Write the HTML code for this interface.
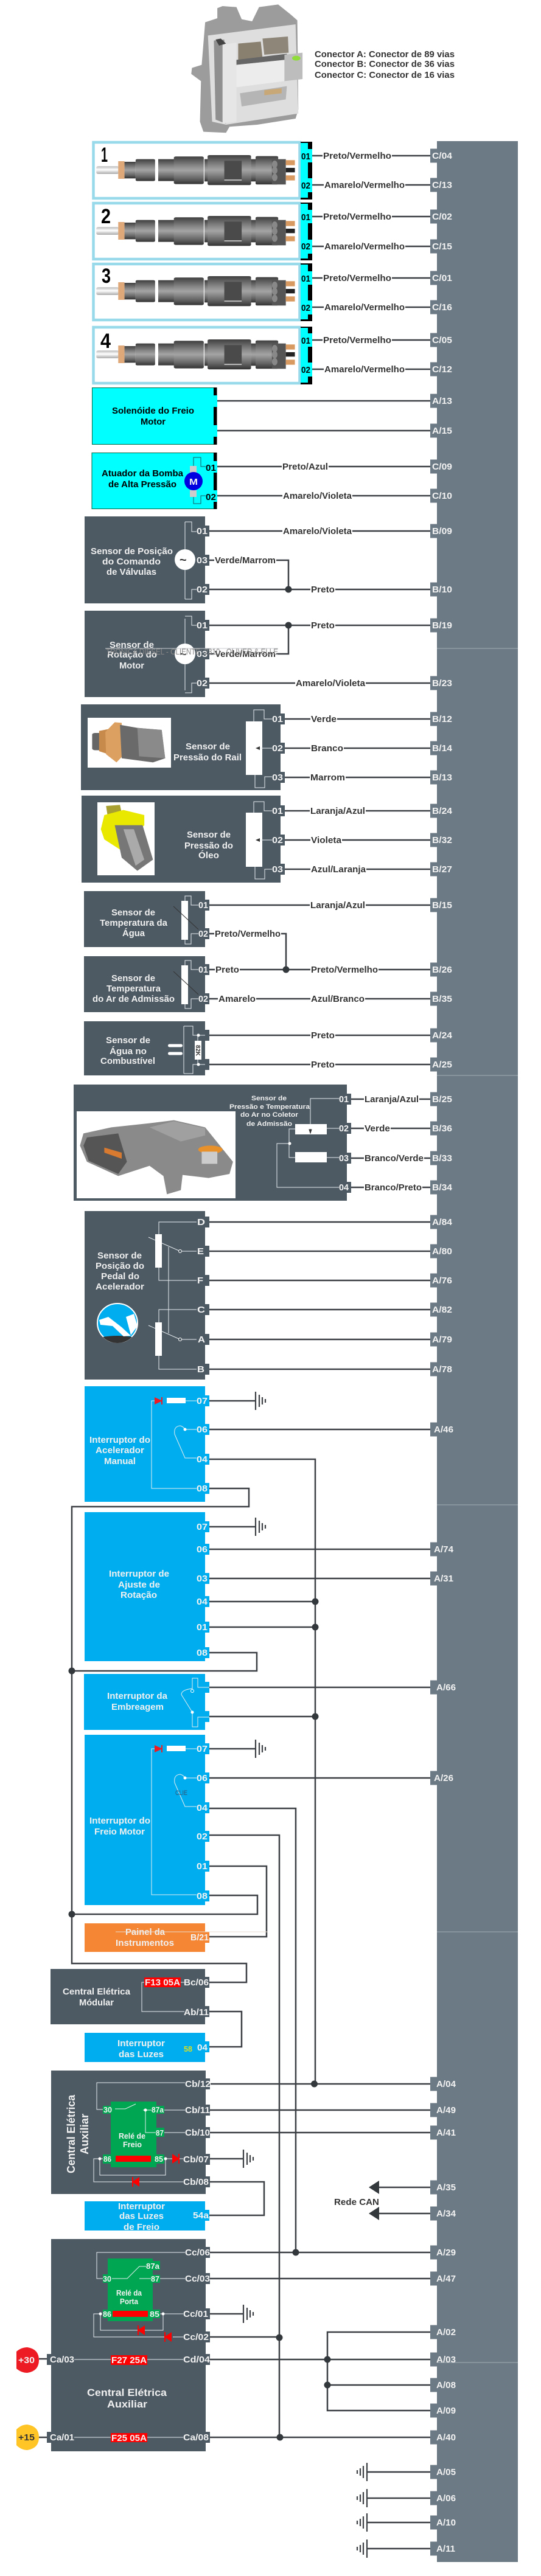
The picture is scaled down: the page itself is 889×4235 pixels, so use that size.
<!DOCTYPE html>
<html><head><meta charset="utf-8"><style>
html,body{margin:0;padding:0;background:#fff}
svg{display:block}
text{font:bold 15px "Liberation Sans",sans-serif;fill:#333}
.w{fill:#f2f2f2}.k{fill:#000}
.b{font-size:14.5px;fill:#f0f0f0}
.s{font-size:11px;fill:#f0f0f0}
.c{fill:none;stroke:#3c4044;stroke-width:2.5}
.t{fill:none;stroke:#e6ecef;stroke-width:1}
.f{fill:none;stroke:#1d5a60;stroke-width:1}
</style></head><body>
<svg xmlns="http://www.w3.org/2000/svg" width="889" height="4235" viewBox="0 0 889 4235">
<defs>
<linearGradient id="gb" x1="0" y1="0" x2="0" y2="1"><stop offset="0" stop-color="#3f3f3f"/><stop offset=".35" stop-color="#8a8a8a"/><stop offset=".5" stop-color="#a4a4a4"/><stop offset=".8" stop-color="#666"/><stop offset="1" stop-color="#333"/></linearGradient>
<linearGradient id="gt" x1="0" y1="0" x2="0" y2="1"><stop offset="0" stop-color="#bbb"/><stop offset=".45" stop-color="#fff"/><stop offset="1" stop-color="#aaa"/></linearGradient>
<g id="inj"><g transform="scale(.5714 .3333)">
<rect x="277" y="820" width="65" height="38" rx="6" fill="url(#gt)"/>
<rect x="340" y="795" width="18" height="87" fill="#dfa878"/>
<rect x="358" y="798" width="32" height="82" fill="url(#gb)"/>
<rect x="390" y="785" width="56" height="108" rx="5" fill="url(#gb)"/>
<rect x="455" y="785" width="46" height="108" fill="url(#gb)"/>
<rect x="500" y="772" width="86" height="136" rx="6" fill="url(#gb)"/>
<rect x="588" y="785" width="10" height="110" fill="url(#gb)"/>
<rect x="597" y="765" width="125" height="148" rx="6" fill="url(#gb)"/>
<rect x="722" y="785" width="14" height="110" fill="url(#gb)"/>
<rect x="735" y="770" width="65" height="140" rx="5" fill="url(#gb)"/>
<rect x="645" y="793" width="50" height="97" fill="#4a4a4a"/>
<rect x="645" y="886" width="50" height="4" fill="#eee"/>
<rect x="782" y="785" width="40" height="125" fill="#555"/>
<ellipse cx="790" cy="810" rx="8" ry="18" fill="#888"/><ellipse cx="790" cy="840" rx="8" ry="18" fill="#888"/><ellipse cx="790" cy="875" rx="8" ry="18" fill="#888"/>
<rect x="822" y="790" width="26" height="25" fill="#d89a60"/><rect x="822" y="828" width="26" height="22" fill="#222"/><rect x="822" y="865" width="26" height="25" fill="#d89a60"/>
</g></g>
<path id="gr" d="M0-15V15M6-10V10M11-6V6M16-3V3" fill="none" stroke="#3c4044" stroke-width="2.2"/>
</defs>

<!-- ECU -->
<g transform="scale(.5714 .3333)">
<polygon points="625,40 640,30 680,35 695,95 725,105 745,35 800,22 835,70 855,100 858,540 850,585 740,615 660,625 650,655 585,650 575,600 578,400 550,365 552,335 580,320 590,110 625,90" fill="#9c9c9c"/>
<polygon points="598,175 850,120 858,560 650,615 610,600" fill="#dedede"/>
<polygon points="615,200 645,195 650,610 620,590" fill="#909090"/>
<polygon points="640,220 680,210 680,600 640,610" fill="#e6e6e6"/>
<polygon points="685,215 750,205 755,285 685,295" fill="#8a8070"/>
<polygon points="755,190 828,180 830,260 760,270" fill="#8e8678"/>
<polygon points="680,295 825,265 825,295 680,320" fill="#666"/>
<polygon points="680,320 818,295 818,400 680,430" fill="#ececec"/>
<polygon points="818,270 870,260 870,390 818,400" fill="#bdbdbd"/>
<circle cx="852" cy="287" r="12" fill="#8fdc3a"/>
<polygon points="690,460 825,425 822,490 695,525" fill="#b5b5b5"/>
<polygon points="760,445 810,435 810,460 760,470" fill="#c9a878"/>
<polygon points="620,195 635,190 650,215 630,225" fill="#444"/>
</g>
<text x="517" y="94" textLength="230" lengthAdjust="spacingAndGlyphs">Conector A: Conector de 89 vias</text>
<text x="517" y="110" textLength="230" lengthAdjust="spacingAndGlyphs">Conector B: Conector de 36 vias</text>
<text x="517" y="128" textLength="230" lengthAdjust="spacingAndGlyphs">Conector C: Conector de 16 vias</text>

<!-- ECU panel -->
<rect x="718" y="232" width="133" height="3980" fill="#6c7a85"/>
<path fill="#6c7a85" d="M707 244.500h11v23h-11zM707 292.500h11v23h-11zM707 344.500h11v23h-11zM707 393.500h11v23h-11zM707 445.500h11v23h-11zM707 493.500h11v23h-11zM707 547.500h11v23h-11zM707 595.500h11v23h-11zM707 647.500h11v23h-11zM707 696.500h11v23h-11zM707 755.500h11v23h-11zM707 803.500h11v23h-11zM707 861.500h11v23h-11zM707 957.500h11v23h-11zM707 1016.500h11v23h-11zM707 1111.500h11v23h-11zM707 1170.500h11v23h-11zM707 1218.500h11v23h-11zM707 1266.500h11v23h-11zM707 1321.500h11v23h-11zM707 1369.500h11v23h-11zM707 1417.500h11v23h-11zM707 1476.500h11v23h-11zM707 1582.500h11v23h-11zM707 1630.500h11v23h-11zM707 1690.500h11v23h-11zM707 1738.500h11v23h-11zM707 1795.500h11v23h-11zM707 1843.500h11v23h-11zM707 1892.500h11v23h-11zM707 1940.500h11v23h-11zM707 1997.500h11v23h-11zM707 2045.500h11v23h-11zM707 2093.500h11v23h-11zM707 2141.500h11v23h-11zM707 2190.500h11v23h-11zM707 2239.500h11v23h-11zM707 2338.500h11v23h-11zM707 2535.500h11v23h-11zM707 2583.500h11v23h-11zM707 2762.500h11v23h-11zM707 2911.500h11v23h-11zM707 3414.500h11v23h-11zM707 3457.500h11v23h-11zM707 3494.500h11v23h-11zM707 3584.500h11v23h-11zM707 3627.500h11v23h-11zM707 3691.500h11v23h-11zM707 3734.500h11v23h-11zM707 3822.500h11v23h-11zM707 3867.500h11v23h-11zM707 3909.500h11v23h-11zM707 3951.500h11v23h-11zM707 3995.500h11v23h-11zM707 4052.500h11v23h-11zM707 4095.500h11v23h-11zM707 4135.500h11v23h-11zM707 4178.500h11v23h-11z"/>
<path stroke="#a2adb5" stroke-width="1" d="M718 1066H851M718 1768H851M718 2474H851M718 3176H851M718 3884H851"/>

<!-- Injector boxes -->
<g fill="#fff" stroke="#98d9ea" stroke-width="4.500">
<rect x="153.500" y="234" width="339" height="92"/>
<rect x="153.500" y="334" width="339" height="92"/>
<rect x="153.500" y="434" width="339" height="92"/>
<rect x="153.500" y="538" width="339" height="92"/>
</g>
<use href="#inj"/><use href="#inj" y="100"/><use href="#inj" y="199"/><use href="#inj" y="303"/>
<g>
<text class="k" style="font-size:34px" x="166" y="266" textLength="11" lengthAdjust="spacingAndGlyphs">1</text>
<text class="k" style="font-size:34px" x="166" y="367" textLength="16" lengthAdjust="spacingAndGlyphs">2</text>
<text class="k" style="font-size:34px" x="167" y="465" textLength="15" lengthAdjust="spacingAndGlyphs">3</text>
<text class="k" style="font-size:34px" x="165" y="572" textLength="17" lengthAdjust="spacingAndGlyphs">4</text>
</g>
<path fill="#000" d="M494 233h19v95h-19zM494 333h19v95h-19zM494 433h19v95h-19zM494 537h19v95h-19z"/>
<path fill="#0ff" d="M494 235h12v90h-12zM494 335h12v90h-12zM494 435h12v90h-12zM494 539h12v90h-12zM494 245h19v22h-19zM494 293h19v23h-19zM494 345h19v22h-19zM494 394h19v23h-19zM494 446h19v22h-19zM494 494h19v23h-19zM494 548h19v22h-19zM494 596h19v23h-19z"/>
<g class="pi">
<text class="k" x="495" y="262" textLength="15" lengthAdjust="spacingAndGlyphs">01</text><text class="k" x="495" y="310" textLength="15" lengthAdjust="spacingAndGlyphs">02</text>
<text class="k" x="495" y="362" textLength="15" lengthAdjust="spacingAndGlyphs">01</text><text class="k" x="495" y="410" textLength="15" lengthAdjust="spacingAndGlyphs">02</text>
<text class="k" x="495" y="463" textLength="15" lengthAdjust="spacingAndGlyphs">01</text><text class="k" x="495" y="511" textLength="15" lengthAdjust="spacingAndGlyphs">02</text>
<text class="k" x="495" y="565" textLength="15" lengthAdjust="spacingAndGlyphs">01</text><text class="k" x="495" y="613" textLength="15" lengthAdjust="spacingAndGlyphs">02</text>
</g>

<!-- Solenoid & actuator -->
<rect x="151.500" y="637.500" width="204" height="93" fill="#0ff" stroke="#064" stroke-width="1"/>
<rect x="351" y="637" width="5.500" height="94" fill="#000"/>
<rect x="351" y="650" width="6" height="19" fill="#0ff"/><rect x="351" y="699" width="6" height="19" fill="#0ff"/>
<text class="k" x="184" y="680" textLength="135" lengthAdjust="spacingAndGlyphs">Solenóide do Freio</text>
<text class="k" x="231" y="698" textLength="41" lengthAdjust="spacingAndGlyphs">Motor</text>
<rect x="151" y="744.500" width="205" height="92" fill="#0ff" stroke="#064" stroke-width="1"/>
<rect x="351" y="744" width="5.500" height="93" fill="#000"/>
<rect x="337" y="758" width="20" height="19" fill="#0ff"/><rect x="337" y="806" width="20" height="19" fill="#0ff"/>
<text class="k" x="167" y="783" textLength="134" lengthAdjust="spacingAndGlyphs">Atuador da Bomba</text>
<text class="k" x="178" y="801" textLength="112" lengthAdjust="spacingAndGlyphs">de Alta Pressão</text>
<path class="f" d="M318 766V752H330V767H338M318 817V828H330V815H338"/>
<rect x="312" y="766" width="11" height="11" fill="#ccc"/><rect x="312" y="806" width="11" height="11" fill="#ccc"/>
<circle cx="318" cy="791" r="15" fill="#0000e0"/>
<text class="w" x="311" y="797" textLength="14" lengthAdjust="spacingAndGlyphs">M</text>
<text class="k" x="338" y="774" textLength="17" lengthAdjust="spacingAndGlyphs">01</text>
<text class="k" x="338" y="822" textLength="17" lengthAdjust="spacingAndGlyphs">02</text>

<!-- Dark boxes -->
<g fill="#4d5a63">
<rect x="139" y="849" width="198" height="143"/><rect x="139" y="1004" width="198" height="142"/>
<rect x="133" y="1158" width="328" height="141"/><rect x="134" y="1308" width="327" height="143"/>
<rect x="138" y="1465" width="199" height="92"/><rect x="138" y="1572" width="199" height="92"/><rect x="138" y="1679" width="199" height="89"/>
<rect x="121" y="1783" width="449" height="191"/><rect x="139" y="1991" width="198" height="277"/>
<rect x="83" y="3237" width="254" height="91"/><rect x="84" y="3404" width="254" height="203"/><rect x="84" y="3681" width="254" height="349"/>
<path d="M337 864h7v18h-7zM337 912h7v18h-7zM337 960h7v18h-7zM337 1019h7v18h-7zM337 1066h7v18h-7zM337 1114h7v18h-7zM461 1173h7v18h-7zM461 1221h7v18h-7zM461 1269h7v18h-7zM461 1324h7v18h-7zM461 1372h7v18h-7zM461 1420h7v18h-7zM337 1479h7v18h-7zM337 1526h7v18h-7zM337 1585h7v18h-7zM337 1633h7v18h-7zM337 1693h7v18h-7zM337 1741h7v18h-7zM570 1798h7v18h-7zM570 1846h7v18h-7zM570 1895h7v18h-7zM570 1943h7v18h-7zM337 2000h7v18h-7zM337 2048h7v18h-7zM337 2096h7v18h-7zM337 2144h7v18h-7zM337 2193h7v18h-7zM337 2242h7v18h-7zM337 3250h7v18h-7zM337 3298h7v18h-7zM338 3417h7v18h-7zM338 3460h7v18h-7zM338 3497h7v18h-7zM338 3541h7v18h-7zM338 3578h7v18h-7zM338 3694h7v18h-7zM338 3737h7v18h-7zM338 3795h7v18h-7zM338 3833h7v18h-7zM338 3870h7v18h-7zM338 3998h7v18h-7zM77 3870h7v18h-7zM77 3998h7v18h-7z"/>
</g>
<g fill="#00aeef">
<rect x="139" y="2279" width="198" height="190"/><rect x="139" y="2486" width="198" height="245"/><rect x="138" y="2752" width="199" height="92"/><rect x="139" y="2852" width="198" height="280"/><rect x="139" y="3342" width="198" height="48"/><rect x="139" y="3619" width="198" height="48"/>
<path d="M337 2294h7v18h-7zM337 2341h7v18h-7zM337 2390h7v18h-7zM337 2438h7v18h-7zM337 2501h7v18h-7zM337 2538h7v18h-7zM337 2586h7v18h-7zM337 2624h7v18h-7zM337 2666h7v18h-7zM337 2708h7v18h-7zM337 2765h7v18h-7zM337 2813h7v18h-7zM337 2866h7v18h-7zM337 2914h7v18h-7zM337 2963h7v18h-7zM337 3010h7v18h-7zM337 3059h7v18h-7zM337 3108h7v18h-7zM337 3356h7v18h-7zM337 3633h7v18h-7z"/>
</g>
<rect x="139" y="3162" width="198" height="47" fill="#f58634"/><rect x="337" y="3176" width="7" height="18" fill="#f58634"/>

<!-- Wires -->
<path class="c" d="M513 256H530M644 256H707M513 304H532M666 304H707M513 356H530M644 356H707M513 405H532M666 405H707M513 457H530M644 457H707M513 505H532M666 505H707M513 559H530M644 559H707M513 607H532M666 607H707
M357 659H707M357 708H707M357 767H463M540 767H707M357 815H464M579 815H707
M344 873H464M579 873H707M344 921H352M454 921H474V969M344 969H510M551 969H707
M344 1028H510M551 1028H707M344 1075H352M454 1075H474V1028M344 1123H485M601 1123H707
M468 1182H510M554 1182H707M468 1230H510M565 1230H707M468 1278H509M568 1278H707
M468 1333H509M601 1333H707M468 1381H510M562 1381H707M468 1429H510M602 1429H707
M344 1488H509M601 1488H707M344 1535H352M462 1535H470V1594M344 1594H353M394 1594H510M622 1594H707M344 1642H358M421 1642H510M600 1642H707
M344 1702H510M551 1702H707M344 1750H510M551 1750H707
M577 1807H598M689 1807H707M577 1855H598M642 1855H707M577 1904H598M697 1904H707M577 1952H598M694 1952H707
M344 2009H707M344 2057H707M344 2105H707M344 2153H707M344 2202H707M344 2251H707
M344 2303H420M344 2350H707M344 2399H518V3426M344 2447H409V2477H118V3228H405V3259H344
M344 2510H420M344 2547H707M344 2595H707M344 2633H518M344 2675H518M344 2717H422V2747H118M344 2774H707M344 2822H518
M344 2875H420M344 2923H707M344 2973H486V3703M344 3017H459V4007M344 3068H438V3184H344M344 3116H423V3147H118M344 3307H397V3365H344
M346 3426H707M345 3469H707M345 3506H707M345 3549H400M345 3587H434V3642H344M622 3596H707M622 3639H707
M345 3703H707M345 3746H707M345 3804H400M345 3842H459M707 3834H538V3963H707M345 3879H707M538 3921H707M345 4007H707
M603 4064H707M603 4107H707M603 4147H707M603 4190H707M64 3878H77M64 4007H77"/>
<g fill="#33383c">
<circle cx="474" cy="969" r="5.500"/><circle cx="474" cy="1028" r="5.500"/><circle cx="470" cy="1594" r="5.500"/>
<circle cx="518" cy="2633" r="5.500"/><circle cx="518" cy="2675" r="5.500"/><circle cx="118" cy="2747" r="5.500"/><circle cx="518" cy="2822" r="5.500"/><circle cx="118" cy="3147" r="5.500"/>
<circle cx="516.500" cy="3426" r="5.500"/><circle cx="486" cy="3703" r="5.500"/><circle cx="459" cy="3843" r="5.500"/><circle cx="538" cy="3879" r="5.500"/><circle cx="538" cy="3921" r="5.500"/><circle cx="460" cy="4007" r="5.500"/>
<path d="M606 3596L623 3585V3607ZM606 3639L623 3628V3650Z"/>
</g>
<use href="#gr" x="420" y="2303"/><use href="#gr" x="420" y="2510"/><use href="#gr" x="420" y="2875"/><use href="#gr" x="400" y="3549"/><use href="#gr" x="400" y="3804"/>
<use href="#gr" transform="translate(603 4064) scale(-1 1)"/><use href="#gr" transform="translate(603 4107) scale(-1 1)"/><use href="#gr" transform="translate(603 4147) scale(-1 1)"/><use href="#gr" transform="translate(603 4190) scale(-1 1)"/>

<!-- Wire labels -->
<text x="531" y="261" textLength="112" lengthAdjust="spacingAndGlyphs">Preto/Vermelho</text><text x="533" y="309" textLength="132" lengthAdjust="spacingAndGlyphs">Amarelo/Vermelho</text>
<text x="531" y="361" textLength="112" lengthAdjust="spacingAndGlyphs">Preto/Vermelho</text><text x="533" y="410" textLength="132" lengthAdjust="spacingAndGlyphs">Amarelo/Vermelho</text>
<text x="531" y="462" textLength="112" lengthAdjust="spacingAndGlyphs">Preto/Vermelho</text><text x="533" y="510" textLength="132" lengthAdjust="spacingAndGlyphs">Amarelo/Vermelho</text>
<text x="531" y="564" textLength="112" lengthAdjust="spacingAndGlyphs">Preto/Vermelho</text><text x="533" y="612" textLength="132" lengthAdjust="spacingAndGlyphs">Amarelo/Vermelho</text>
<text x="464" y="772" textLength="75" lengthAdjust="spacingAndGlyphs">Preto/Azul</text><text x="465" y="820" textLength="113" lengthAdjust="spacingAndGlyphs">Amarelo/Violeta</text>
<text x="465" y="878" textLength="113" lengthAdjust="spacingAndGlyphs">Amarelo/Violeta</text><text x="353" y="926" textLength="100" lengthAdjust="spacingAndGlyphs">Verde/Marrom</text><text x="511" y="974" textLength="39" lengthAdjust="spacingAndGlyphs">Preto</text>
<text x="511" y="1033" textLength="39" lengthAdjust="spacingAndGlyphs">Preto</text><text x="353" y="1080" textLength="100" lengthAdjust="spacingAndGlyphs">Verde/Marrom</text><text x="486" y="1128" textLength="114" lengthAdjust="spacingAndGlyphs">Amarelo/Violeta</text>
<text x="511" y="1187" textLength="42" lengthAdjust="spacingAndGlyphs">Verde</text><text x="511" y="1235" textLength="53" lengthAdjust="spacingAndGlyphs">Branco</text><text x="510" y="1283" textLength="57" lengthAdjust="spacingAndGlyphs">Marrom</text>
<text x="510" y="1338" textLength="90" lengthAdjust="spacingAndGlyphs">Laranja/Azul</text><text x="511" y="1386" textLength="50" lengthAdjust="spacingAndGlyphs">Violeta</text><text x="511" y="1434" textLength="90" lengthAdjust="spacingAndGlyphs">Azul/Laranja</text>
<text x="510" y="1493" textLength="90" lengthAdjust="spacingAndGlyphs">Laranja/Azul</text><text x="353" y="1540" textLength="108" lengthAdjust="spacingAndGlyphs">Preto/Vermelho</text>
<text x="354" y="1599" textLength="39" lengthAdjust="spacingAndGlyphs">Preto</text><text x="511" y="1599" textLength="110" lengthAdjust="spacingAndGlyphs">Preto/Vermelho</text>
<text x="359" y="1647" textLength="61" lengthAdjust="spacingAndGlyphs">Amarelo</text><text x="511" y="1647" textLength="88" lengthAdjust="spacingAndGlyphs">Azul/Branco</text>
<text x="511" y="1707" textLength="39" lengthAdjust="spacingAndGlyphs">Preto</text><text x="511" y="1755" textLength="39" lengthAdjust="spacingAndGlyphs">Preto</text>
<text x="599" y="1812" textLength="89" lengthAdjust="spacingAndGlyphs">Laranja/Azul</text><text x="599" y="1860" textLength="42" lengthAdjust="spacingAndGlyphs">Verde</text><text x="599" y="1909" textLength="97" lengthAdjust="spacingAndGlyphs">Branco/Verde</text><text x="599" y="1957" textLength="94" lengthAdjust="spacingAndGlyphs">Branco/Preto</text>
<text x="549" y="3625" textLength="74" lengthAdjust="spacingAndGlyphs">Rede CAN</text>

<!-- Panel labels -->
<g>
<text class="w" x="710" y="261" textLength="33" lengthAdjust="spacingAndGlyphs">C/04</text><text class="w" x="710" y="309" textLength="33" lengthAdjust="spacingAndGlyphs">C/13</text><text class="w" x="710" y="361" textLength="33" lengthAdjust="spacingAndGlyphs">C/02</text><text class="w" x="710" y="410" textLength="33" lengthAdjust="spacingAndGlyphs">C/15</text><text class="w" x="710" y="462" textLength="33" lengthAdjust="spacingAndGlyphs">C/01</text><text class="w" x="710" y="510" textLength="33" lengthAdjust="spacingAndGlyphs">C/16</text><text class="w" x="710" y="564" textLength="33" lengthAdjust="spacingAndGlyphs">C/05</text><text class="w" x="710" y="612" textLength="33" lengthAdjust="spacingAndGlyphs">C/12</text>
<text class="w" x="710" y="664" textLength="33" lengthAdjust="spacingAndGlyphs">A/13</text><text class="w" x="710" y="713" textLength="33" lengthAdjust="spacingAndGlyphs">A/15</text><text class="w" x="710" y="772" textLength="33" lengthAdjust="spacingAndGlyphs">C/09</text><text class="w" x="710" y="820" textLength="33" lengthAdjust="spacingAndGlyphs">C/10</text>
<text class="w" x="710" y="878" textLength="33" lengthAdjust="spacingAndGlyphs">B/09</text><text class="w" x="710" y="974" textLength="33" lengthAdjust="spacingAndGlyphs">B/10</text><text class="w" x="710" y="1033" textLength="33" lengthAdjust="spacingAndGlyphs">B/19</text><text class="w" x="710" y="1128" textLength="33" lengthAdjust="spacingAndGlyphs">B/23</text>
<text class="w" x="710" y="1187" textLength="33" lengthAdjust="spacingAndGlyphs">B/12</text><text class="w" x="710" y="1235" textLength="33" lengthAdjust="spacingAndGlyphs">B/14</text><text class="w" x="710" y="1283" textLength="33" lengthAdjust="spacingAndGlyphs">B/13</text><text class="w" x="710" y="1338" textLength="33" lengthAdjust="spacingAndGlyphs">B/24</text><text class="w" x="710" y="1386" textLength="33" lengthAdjust="spacingAndGlyphs">B/32</text><text class="w" x="710" y="1434" textLength="33" lengthAdjust="spacingAndGlyphs">B/27</text>
<text class="w" x="710" y="1493" textLength="33" lengthAdjust="spacingAndGlyphs">B/15</text><text class="w" x="710" y="1599" textLength="33" lengthAdjust="spacingAndGlyphs">B/26</text><text class="w" x="710" y="1647" textLength="33" lengthAdjust="spacingAndGlyphs">B/35</text><text class="w" x="710" y="1707" textLength="33" lengthAdjust="spacingAndGlyphs">A/24</text><text class="w" x="710" y="1755" textLength="33" lengthAdjust="spacingAndGlyphs">A/25</text>
<text class="w" x="710" y="1812" textLength="33" lengthAdjust="spacingAndGlyphs">B/25</text><text class="w" x="710" y="1860" textLength="33" lengthAdjust="spacingAndGlyphs">B/36</text><text class="w" x="710" y="1909" textLength="33" lengthAdjust="spacingAndGlyphs">B/33</text><text class="w" x="710" y="1957" textLength="33" lengthAdjust="spacingAndGlyphs">B/34</text>
<text class="w" x="710" y="2014" textLength="33" lengthAdjust="spacingAndGlyphs">A/84</text><text class="w" x="710" y="2062" textLength="33" lengthAdjust="spacingAndGlyphs">A/80</text><text class="w" x="710" y="2110" textLength="33" lengthAdjust="spacingAndGlyphs">A/76</text><text class="w" x="710" y="2158" textLength="33" lengthAdjust="spacingAndGlyphs">A/82</text><text class="w" x="710" y="2207" textLength="33" lengthAdjust="spacingAndGlyphs">A/79</text><text class="w" x="710" y="2256" textLength="33" lengthAdjust="spacingAndGlyphs">A/78</text>
<text class="w" x="713" y="2355" textLength="32" lengthAdjust="spacingAndGlyphs">A/46</text><text class="w" x="713" y="2552" textLength="32" lengthAdjust="spacingAndGlyphs">A/74</text><text class="w" x="713" y="2600" textLength="32" lengthAdjust="spacingAndGlyphs">A/31</text><text class="w" x="717" y="2779" textLength="32" lengthAdjust="spacingAndGlyphs">A/66</text><text class="w" x="713" y="2928" textLength="32" lengthAdjust="spacingAndGlyphs">A/26</text>
<text class="w" x="717" y="3431" textLength="32" lengthAdjust="spacingAndGlyphs">A/04</text><text class="w" x="717" y="3474" textLength="32" lengthAdjust="spacingAndGlyphs">A/49</text><text class="w" x="717" y="3511" textLength="32" lengthAdjust="spacingAndGlyphs">A/41</text><text class="w" x="717" y="3601" textLength="32" lengthAdjust="spacingAndGlyphs">A/35</text><text class="w" x="717" y="3644" textLength="32" lengthAdjust="spacingAndGlyphs">A/34</text><text class="w" x="717" y="3708" textLength="32" lengthAdjust="spacingAndGlyphs">A/29</text><text class="w" x="717" y="3751" textLength="32" lengthAdjust="spacingAndGlyphs">A/47</text><text class="w" x="717" y="3839" textLength="32" lengthAdjust="spacingAndGlyphs">A/02</text><text class="w" x="717" y="3884" textLength="32" lengthAdjust="spacingAndGlyphs">A/03</text><text class="w" x="717" y="3926" textLength="32" lengthAdjust="spacingAndGlyphs">A/08</text><text class="w" x="717" y="3968" textLength="32" lengthAdjust="spacingAndGlyphs">A/09</text><text class="w" x="717" y="4012" textLength="32" lengthAdjust="spacingAndGlyphs">A/40</text><text class="w" x="717" y="4069" textLength="32" lengthAdjust="spacingAndGlyphs">A/05</text><text class="w" x="717" y="4112" textLength="32" lengthAdjust="spacingAndGlyphs">A/06</text><text class="w" x="717" y="4152" textLength="32" lengthAdjust="spacingAndGlyphs">A/10</text><text class="w" x="717" y="4195" textLength="31" lengthAdjust="spacingAndGlyphs">A/11</text>
</g>

<!-- Posição comando -->
<path class="t" d="M304 858V985M304 858H315V874H323M304 985H315V969H323M304 1017V1135M304 1013H315V1028H323M304 1139H315V1123H323"/>
<circle cx="304" cy="920" r="17" fill="#fff"/><text x="295" y="927" style="font-size:20px">~</text>
<circle cx="304" cy="1075" r="17" fill="#fff"/><text x="295" y="1082" style="font-size:20px">~</text>
<text class="b" x="149" y="911" textLength="135" lengthAdjust="spacingAndGlyphs">Sensor de Posição</text><text class="b" x="168" y="928" textLength="96" lengthAdjust="spacingAndGlyphs">do  Comando</text><text class="b" x="175" y="945" textLength="82" lengthAdjust="spacingAndGlyphs">de Válvulas</text>
<text class="b" x="180" y="1065" textLength="73" lengthAdjust="spacingAndGlyphs">Sensor de</text><text class="b" x="176" y="1081" textLength="82" lengthAdjust="spacingAndGlyphs">Rotação do</text><text class="b" x="196" y="1099" textLength="41" lengthAdjust="spacingAndGlyphs">Motor</text>
<text class="w" x="323" y="878" textLength="18" lengthAdjust="spacingAndGlyphs">01</text><text class="w" x="323" y="926" textLength="18" lengthAdjust="spacingAndGlyphs">03</text><text class="w" x="323" y="974" textLength="18" lengthAdjust="spacingAndGlyphs">02</text>
<text class="w" x="323" y="1033" textLength="18" lengthAdjust="spacingAndGlyphs">01</text><text class="w" x="323" y="1080" textLength="18" lengthAdjust="spacingAndGlyphs">03</text><text class="w" x="323" y="1128" textLength="18" lengthAdjust="spacingAndGlyphs">02</text>
<path d="M173 1066H457" stroke="#c8cdd0" stroke-width="1"/>
<text x="174" y="1076" style="font-size:14px;font-weight:normal;fill:#888" textLength="283" lengthAdjust="spacingAndGlyphs">TRÔNICA DIESEL - CLIENTE: 2310 - OLIVER &amp; ELLE</text>

<!-- Rail sensor -->
<rect x="144" y="1180" width="137" height="82" fill="#fff"/>
<g transform="translate(0 1080) scale(.5714 .3333)">
<rect x="265" y="375" width="30" height="85" rx="8" fill="#666"/>
<polygon points="285,365 330,350 330,490 285,465" fill="#c88a4a"/>
<polygon points="303,370 330,322 350,325 352,490 335,520 305,480" fill="#dca060"/>
<polygon points="345,335 395,350 465,360 475,500 440,520 350,500" fill="#6a6a6a"/>
<polygon points="395,350 465,360 475,500 400,490" fill="#8a8a8a"/>
</g>
<text class="b" x="305" y="1232" textLength="73" lengthAdjust="spacingAndGlyphs">Sensor de</text><text class="b" x="285" y="1250" textLength="112" lengthAdjust="spacingAndGlyphs">Pressão do Rail</text>
<rect x="404" y="1186" width="27" height="88" fill="#fff"/>
<path class="t" d="M417 1186V1167H434V1182H447M420 1230H447M419 1274V1295H435V1277H447"/>
<path d="M420 1230L427 1227V1233Z" fill="#333"/>
<text class="w" x="447" y="1187" textLength="18" lengthAdjust="spacingAndGlyphs">01</text><text class="w" x="447" y="1235" textLength="18" lengthAdjust="spacingAndGlyphs">02</text><text class="w" x="447" y="1283" textLength="18" lengthAdjust="spacingAndGlyphs">03</text>

<!-- Oil sensor -->
<rect x="160" y="1319" width="94" height="120" fill="#fff"/>
<g transform="translate(0 1080) scale(.5714 .3333)">
<polygon points="305,735 345,730 350,770 310,790" fill="#a8a030"/>
<polygon points="300,780 355,755 415,780 415,830 345,950 300,900 290,850" fill="#e8e800"/>
<polygon points="330,830 410,830 440,1000 395,1055 350,990" fill="#777"/>
<polygon points="355,850 385,850 415,1000 390,1030" fill="#aaa"/>
</g>
<text class="b" x="307" y="1377" textLength="72" lengthAdjust="spacingAndGlyphs">Sensor de</text><text class="b" x="303" y="1395" textLength="80" lengthAdjust="spacingAndGlyphs">Pressão do</text><text class="b" x="326" y="1411" textLength="34" lengthAdjust="spacingAndGlyphs">Óleo</text>
<rect x="404" y="1336" width="27" height="89" fill="#fff"/>
<path class="t" d="M417 1336V1318H434V1333H447M420 1381H447M419 1425V1445H435V1429H447"/>
<path d="M420 1381L427 1378V1384Z" fill="#333"/>
<text class="w" x="447" y="1338" textLength="18" lengthAdjust="spacingAndGlyphs">01</text><text class="w" x="447" y="1386" textLength="18" lengthAdjust="spacingAndGlyphs">02</text><text class="w" x="447" y="1434" textLength="18" lengthAdjust="spacingAndGlyphs">03</text>

<!-- Temp sensors -->
<text class="b" x="183" y="1505" textLength="72" lengthAdjust="spacingAndGlyphs">Sensor de</text><text class="b" x="164" y="1522" textLength="111" lengthAdjust="spacingAndGlyphs">Temperatura da</text><text class="b" x="201" y="1539" textLength="37" lengthAdjust="spacingAndGlyphs">Água</text>
<rect x="298" y="1481" width="11" height="64" fill="#fff"/><path d="M285 1490L326 1528" stroke="#333" stroke-width="1"/>
<path class="t" d="M304 1481V1473H314V1488H326M304 1545V1552H314V1535H326"/>
<text class="w" x="326" y="1493" textLength="16" lengthAdjust="spacingAndGlyphs">01</text><text class="w" x="326" y="1540" textLength="16" lengthAdjust="spacingAndGlyphs">02</text>
<text class="b" x="183" y="1613" textLength="72" lengthAdjust="spacingAndGlyphs">Sensor de</text><text class="b" x="175" y="1630" textLength="89" lengthAdjust="spacingAndGlyphs">Temperatura</text><text class="b" x="152" y="1647" textLength="135" lengthAdjust="spacingAndGlyphs">do Ar de Admissão</text>
<rect x="298" y="1587" width="11" height="64" fill="#fff"/><path d="M285 1597L326 1635" stroke="#333" stroke-width="1"/>
<path class="t" d="M304 1587V1579H314V1594H326M304 1651V1658H314V1642H326"/>
<text class="w" x="326" y="1599" textLength="16" lengthAdjust="spacingAndGlyphs">01</text><text class="w" x="326" y="1647" textLength="16" lengthAdjust="spacingAndGlyphs">02</text>

<!-- Water sensor -->
<text class="b" x="174" y="1715" textLength="73" lengthAdjust="spacingAndGlyphs">Sensor de</text><text class="b" x="180" y="1733" textLength="61" lengthAdjust="spacingAndGlyphs">Água no</text><text class="b" x="165" y="1749" textLength="90" lengthAdjust="spacingAndGlyphs">Combustível</text>
<rect x="276" y="1716.500" width="24" height="5" rx="2.500" fill="#fff"/><rect x="276" y="1729.500" width="24" height="5" rx="2.500" fill="#fff"/>
<path class="t" d="M302 1687V1765M302 1687H317V1702H337M302 1765H317V1750H337M325 1702V1711M325 1742V1750"/>
<circle cx="326" cy="1702" r="2.500" fill="#fff"/><circle cx="326" cy="1750" r="2.500" fill="#fff"/>
<rect x="320" y="1711" width="11" height="31" fill="#fff"/>
<text x="0" y="0" transform="translate(322 1718) rotate(90)" style="font-size:10px" textLength="18" lengthAdjust="spacingAndGlyphs">82K</text>

<!-- MAP sensor -->
<rect x="126" y="1827" width="261" height="143" fill="#fff"/>
<g transform="translate(0 1800) scale(.5714 .3333)">
<polygon points="240,190 320,160 430,140 500,125 590,160 670,330 660,390 600,410 525,395 520,470 480,490 470,400 430,350 340,400 250,330 230,250" fill="#8a8a8a"/>
<polygon points="250,210 340,190 365,330 340,390 255,325 240,250" fill="#555"/>
<polygon points="300,260 350,285 350,315 300,285" fill="#d87a30"/>
<polygon points="430,160 500,130 590,165 590,200 520,230" fill="#a0a0a0"/>
<ellipse cx="605" cy="270" rx="35" ry="20" fill="#e8902a"/>
<rect x="580" y="280" width="45" height="60" fill="#ccc"/>
</g>
<text class="s" x="413" y="1809" textLength="58" lengthAdjust="spacingAndGlyphs">Sensor de</text><text class="s" x="377" y="1823" textLength="132" lengthAdjust="spacingAndGlyphs">Pressão e Temperatura</text><text class="s" x="395" y="1836" textLength="95" lengthAdjust="spacingAndGlyphs">do Ar no Coletor</text><text class="s" x="405" y="1851" textLength="75" lengthAdjust="spacingAndGlyphs">de Admissão</text>
<path class="t" d="M557 1806H510V1860M557 1855H537M557 1903H537M485 1856H475V1903H485M476 1880H455V1952H557"/>
<rect x="485" y="1848" width="52" height="17" fill="#fff"/><rect x="485" y="1894" width="52" height="17" fill="#fff"/>
<path d="M510 1856V1862M508 1857L510 1863L512 1857Z" stroke="#333" fill="#333"/>
<circle cx="476" cy="1880" r="2.500" fill="#fff"/>
<text class="w" x="557" y="1812" textLength="16" lengthAdjust="spacingAndGlyphs">01</text><text class="w" x="557" y="1860" textLength="16" lengthAdjust="spacingAndGlyphs">02</text><text class="w" x="557" y="1909" textLength="16" lengthAdjust="spacingAndGlyphs">03</text><text class="w" x="557" y="1957" textLength="16" lengthAdjust="spacingAndGlyphs">04</text>

<!-- Pedal sensor -->
<text class="b" x="160" y="2069" textLength="73" lengthAdjust="spacingAndGlyphs">Sensor de</text><text class="b" x="157" y="2086" textLength="80" lengthAdjust="spacingAndGlyphs">Posição do</text><text class="b" x="166" y="2103" textLength="63" lengthAdjust="spacingAndGlyphs">Pedal do</text><text class="b" x="157" y="2120" textLength="80" lengthAdjust="spacingAndGlyphs">Acelerador</text>
<ellipse cx="193" cy="2175" rx="33" ry="32" fill="#00aeef" stroke="#fff" stroke-width="2"/>
<path d="M169 2198Q193 2194 217 2198A33 32 0 0 1 169 2198Z" fill="#333"/>
<polygon points="163,2170 178,2165 200,2182 215,2196 203,2197 185,2180 165,2178" fill="#fff"/><polygon points="207,2165 220,2160 226,2180 215,2195" fill="#fff"/>
<path class="t" d="M261 2029V2009H323M261 2084V2105H323M244 2034L296 2057H323M277 2050V2192M261 2174V2153H323M261 2229V2251H323M244 2179L296 2202H323"/>
<rect x="255" y="2029" width="11" height="55" fill="#fff"/><rect x="255" y="2174" width="11" height="55" fill="#fff"/>
<circle cx="296" cy="2057" r="2.500" fill="#4d5a63" stroke="#fff"/><circle cx="296" cy="2202" r="2.500" fill="#4d5a63" stroke="#fff"/>
<text class="w" x="324" y="2014" textLength="13" lengthAdjust="spacingAndGlyphs">D</text><text class="w" x="324" y="2062" textLength="11" lengthAdjust="spacingAndGlyphs">E</text><text class="w" x="324" y="2110" textLength="10" lengthAdjust="spacingAndGlyphs">F</text><text class="w" x="324" y="2158" textLength="13" lengthAdjust="spacingAndGlyphs">C</text><text class="w" x="325" y="2207" textLength="12" lengthAdjust="spacingAndGlyphs">A</text><text class="w" x="324" y="2256" textLength="12" lengthAdjust="spacingAndGlyphs">B</text>

<!-- Acelerador manual -->
<text class="b" x="147" y="2372" textLength="100" lengthAdjust="spacingAndGlyphs">Interruptor do</text><text class="b" x="157" y="2389" textLength="80" lengthAdjust="spacingAndGlyphs">Acelerador</text><text class="b" x="171" y="2407" textLength="52" lengthAdjust="spacingAndGlyphs">Manual</text>
<path class="t" stroke="#cdeffb" d="M254 2303H249V2447H323M305 2303H323M304 2350H323M287 2358Q285 2345 296 2344Q301 2345 304 2350M287 2358L304 2397H323"/>
<rect x="274" y="2298" width="31" height="9" fill="#fff"/><path d="M254 2297L267 2303L254 2309ZM265 2297H267V2309H265Z" fill="#ed1c24"/><circle cx="304" cy="2350" r="2.500" fill="#fff"/>
<text class="w" x="323" y="2308" textLength="18" lengthAdjust="spacingAndGlyphs">07</text><text class="w" x="323" y="2355" textLength="18" lengthAdjust="spacingAndGlyphs">06</text><text class="w" x="323" y="2404" textLength="18" lengthAdjust="spacingAndGlyphs">04</text><text class="w" x="323" y="2452" textLength="18" lengthAdjust="spacingAndGlyphs">08</text>

<!-- Ajuste -->
<text class="b" x="179" y="2592" textLength="99" lengthAdjust="spacingAndGlyphs">Interruptor de</text><text class="b" x="194" y="2610" textLength="69" lengthAdjust="spacingAndGlyphs">Ajuste de</text><text class="b" x="198" y="2627" textLength="60" lengthAdjust="spacingAndGlyphs">Rotação</text>
<text class="w" x="323" y="2515" textLength="18" lengthAdjust="spacingAndGlyphs">07</text><text class="w" x="323" y="2552" textLength="18" lengthAdjust="spacingAndGlyphs">06</text><text class="w" x="323" y="2600" textLength="18" lengthAdjust="spacingAndGlyphs">03</text><text class="w" x="323" y="2638" textLength="18" lengthAdjust="spacingAndGlyphs">04</text><text class="w" x="323" y="2680" textLength="18" lengthAdjust="spacingAndGlyphs">01</text><text class="w" x="323" y="2722" textLength="18" lengthAdjust="spacingAndGlyphs">08</text>

<!-- Embreagem -->
<text class="b" x="176" y="2793" textLength="99" lengthAdjust="spacingAndGlyphs">Interruptor da</text><text class="b" x="183" y="2811" textLength="86" lengthAdjust="spacingAndGlyphs">Embreagem</text>
<path class="t" d="M316 2780V2759H325V2774H344M298 2786Q298 2778 316 2776M298 2786L316 2815V2839H325V2823H344"/>
<circle cx="316" cy="2780" r="2.500" fill="#00aeef" stroke="#fff"/><circle cx="316" cy="2815" r="2.500" fill="#fff"/>

<!-- Freio motor -->
<text class="b" x="147" y="2998" textLength="100" lengthAdjust="spacingAndGlyphs">Interruptor do</text><text class="b" x="155" y="3016" textLength="83" lengthAdjust="spacingAndGlyphs">Freio Motor</text>
<path class="t" d="M254 2875H249V3115H323M305 2875H323M304 2923H323M287 2931Q285 2918 296 2917Q301 2918 304 2923M287 2931L304 2970H323"/>
<rect x="274" y="2870" width="31" height="9" fill="#fff"/><path d="M254 2869L267 2875L254 2881ZM265 2869H267V2881H265Z" fill="#ed1c24"/><circle cx="304" cy="2923" r="2.500" fill="#fff"/>
<text x="288" y="2951" style="font-size:11px;font-weight:normal;fill:#357" textLength="20" lengthAdjust="spacingAndGlyphs">CLIE</text>
<text class="w" x="323" y="2880" textLength="18" lengthAdjust="spacingAndGlyphs">07</text><text class="w" x="323" y="2928" textLength="18" lengthAdjust="spacingAndGlyphs">06</text><text class="w" x="323" y="2977" textLength="18" lengthAdjust="spacingAndGlyphs">04</text><text class="w" x="323" y="3024" textLength="18" lengthAdjust="spacingAndGlyphs">02</text><text class="w" x="323" y="3073" textLength="18" lengthAdjust="spacingAndGlyphs">01</text><text class="w" x="323" y="3122" textLength="18" lengthAdjust="spacingAndGlyphs">08</text>

<!-- Painel -->
<text class="b" x="206" y="3181" textLength="65" lengthAdjust="spacingAndGlyphs">Painel da</text><text class="b" x="190" y="3199" textLength="96" lengthAdjust="spacingAndGlyphs">Instrumentos</text>
<text class="w" x="313" y="3190" textLength="30" lengthAdjust="spacingAndGlyphs">B/21</text>
<path d="M190 3176H440" stroke="#e8dcd0" stroke-width="1"/>

<!-- Modular -->
<text class="b" x="103" y="3279" textLength="111" lengthAdjust="spacingAndGlyphs">Central Elétrica</text><text class="b" x="130" y="3297" textLength="57" lengthAdjust="spacingAndGlyphs">Módular</text>
<path class="t" d="M237 3259H233V3307H303M297 3259H303"/>
<rect x="237" y="3251" width="60" height="16" fill="#f00"/>
<text class="w" x="238" y="3264" textLength="58" lengthAdjust="spacingAndGlyphs">F13 05A</text>
<text class="w" x="302" y="3264" textLength="41" lengthAdjust="spacingAndGlyphs">Bc/06</text><text class="w" x="302" y="3313" textLength="41" lengthAdjust="spacingAndGlyphs">Ab/11</text>

<!-- Luzes -->
<text class="b" x="193" y="3364" textLength="78" lengthAdjust="spacingAndGlyphs">Interruptor</text><text class="b" x="195" y="3382" textLength="74" lengthAdjust="spacingAndGlyphs">das Luzes</text>
<text x="302" y="3373" style="font-size:13px;fill:#d7df23" textLength="14" lengthAdjust="spacingAndGlyphs">58</text><text class="w" x="324" y="3371" textLength="17" lengthAdjust="spacingAndGlyphs">04</text>

<!-- Central Auxiliar 1 -->
<text class="b" transform="translate(123 3573) rotate(-90)" style="font-size:18px" textLength="129" lengthAdjust="spacingAndGlyphs">Central Elétrica</text>
<text class="b" transform="translate(145 3542) rotate(-90)" style="font-size:18px" textLength="67" lengthAdjust="spacingAndGlyphs">Auxiliar</text>
<path fill="#00a651" d="M182 3455h75v108h-75zM169 3462h13v13h-13zM257 3462h13v13h-13zM257 3498h13v15h-13zM169 3542h13v15h-13zM257 3542h13v15h-13z"/>
<path class="t" d="M304 3424H159V3468H169M189 3467H206L223 3459M235 3469H249M239 3469V3506H256M270 3469H304M270 3506H304M169 3549H154V3587H217M229 3587H301M164 3549V3576H272V3549M272 3549H283M295 3549H301"/>
<circle cx="239" cy="3469" r="2.500" fill="#fff"/><circle cx="164" cy="3549" r="2.500" fill="#fff"/><circle cx="272" cy="3549" r="2.500" fill="#fff"/>
<rect x="190" y="3544" width="58" height="10" fill="#f00"/>
<path d="M283 3541L295 3549L283 3557ZM293 3541H295V3557H293ZM229 3579L217 3587L229 3595ZM217 3579V3595H219V3579Z" fill="#f00"/>
<text class="w" style="font-size:13px" x="170" y="3473" textLength="14" lengthAdjust="spacingAndGlyphs">30</text><text class="w" style="font-size:13px" x="249" y="3473" textLength="20" lengthAdjust="spacingAndGlyphs">87a</text><text class="w" style="font-size:13px" x="256" y="3511" textLength="13" lengthAdjust="spacingAndGlyphs">87</text><text class="w" style="font-size:13px" x="170" y="3554" textLength="13" lengthAdjust="spacingAndGlyphs">86</text><text class="w" style="font-size:13px" x="254" y="3554" textLength="14" lengthAdjust="spacingAndGlyphs">85</text>
<text class="w" style="font-size:13px" x="195" y="3516" textLength="44" lengthAdjust="spacingAndGlyphs">Relé de</text><text class="w" style="font-size:13px" x="202" y="3530" textLength="31" lengthAdjust="spacingAndGlyphs">Freio</text>
<text class="w" x="304" y="3431" textLength="42" lengthAdjust="spacingAndGlyphs">Cb/12</text><text class="w" x="304" y="3474" textLength="41" lengthAdjust="spacingAndGlyphs">Cb/11</text><text class="w" x="304" y="3511" textLength="41" lengthAdjust="spacingAndGlyphs">Cb/10</text><text class="w" x="301" y="3555" textLength="42" lengthAdjust="spacingAndGlyphs">Cb/07</text><text class="w" x="301" y="3592" textLength="42" lengthAdjust="spacingAndGlyphs">Cb/08</text>

<!-- Luzes freio -->
<text class="b" x="194" y="3632" textLength="77" lengthAdjust="spacingAndGlyphs">Interruptor</text><text class="b" x="196" y="3648" textLength="73" lengthAdjust="spacingAndGlyphs">das Luzes</text><text class="b" x="203" y="3666" textLength="59" lengthAdjust="spacingAndGlyphs">de Freio</text>
<text class="w" x="317" y="3647" textLength="26" lengthAdjust="spacingAndGlyphs">54a</text>

<!-- Central Auxiliar 2 -->
<path fill="#00a651" d="M177 3713h74v103h-74zM251 3717h12v15h-12zM251 3740h12v13h-12zM169 3739h8v14h-8zM169 3797h8v14h-8zM251 3797h12v14h-12z"/>
<path class="t" d="M304 3703H159V3746H169M184 3746H209L229 3726H240M229 3746H248M263 3746H304M165 3804V3831H228M238 3831H268V3804M165 3804H154V3842H271M284 3842H301M263 3804H301"/>
<circle cx="165" cy="3804" r="2.500" fill="#fff"/><circle cx="268" cy="3804" r="2.500" fill="#fff"/>
<rect x="185" y="3799" width="58" height="10" fill="#f00"/>
<path d="M238 3823L226 3831L238 3839ZM226 3823V3839H228V3823ZM282 3834L270 3842L282 3850ZM270 3834V3850H272V3834Z" fill="#f00"/>
<text class="w" style="font-size:13px" x="240" y="3730" textLength="22" lengthAdjust="spacingAndGlyphs">87a</text><text class="w" style="font-size:13px" x="169" y="3751" textLength="14" lengthAdjust="spacingAndGlyphs">30</text><text class="w" style="font-size:13px" x="248" y="3751" textLength="14" lengthAdjust="spacingAndGlyphs">87</text>
<text class="w" style="font-size:13px" x="191" y="3774" textLength="42" lengthAdjust="spacingAndGlyphs">Relé da</text><text class="w" style="font-size:13px" x="197" y="3788" textLength="30" lengthAdjust="spacingAndGlyphs">Porta</text>
<text class="w" style="font-size:13px" x="169" y="3809" textLength="14" lengthAdjust="spacingAndGlyphs">86</text><text class="w" style="font-size:13px" x="246" y="3809" textLength="16" lengthAdjust="spacingAndGlyphs">85</text>
<text class="w" x="304" y="3708" textLength="41" lengthAdjust="spacingAndGlyphs">Cc/06</text><text class="w" x="304" y="3751" textLength="41" lengthAdjust="spacingAndGlyphs">Cc/03</text><text class="w" x="301" y="3809" textLength="41" lengthAdjust="spacingAndGlyphs">Cc/01</text><text class="w" x="301" y="3847" textLength="42" lengthAdjust="spacingAndGlyphs">Cc/02</text>

<!-- Power rows -->
<path class="t" stroke-width="1.500" d="M122 3879H182M242 3879H301M122 4007H182M242 4007H301"/>
<rect x="182" y="3872" width="60" height="16" fill="#f00"/><rect x="182" y="4000" width="60" height="15" fill="#f00"/>
<text class="w" x="183" y="3885" textLength="58" lengthAdjust="spacingAndGlyphs">F27 25A</text><text class="w" x="183" y="4013" textLength="58" lengthAdjust="spacingAndGlyphs">F25 05A</text>
<text class="w" x="82" y="3884" textLength="40" lengthAdjust="spacingAndGlyphs">Ca/03</text><text class="w" x="301" y="3884" textLength="44" lengthAdjust="spacingAndGlyphs">Cd/04</text>
<text class="w" x="82" y="4012" textLength="40" lengthAdjust="spacingAndGlyphs">Ca/01</text><text class="w" x="301" y="4012" textLength="42" lengthAdjust="spacingAndGlyphs">Ca/08</text>
<text class="b" style="font-size:17px" x="143" y="3939" textLength="131" lengthAdjust="spacingAndGlyphs">Central Elétrica</text><text class="b" style="font-size:17px" x="176" y="3958" textLength="66" lengthAdjust="spacingAndGlyphs">Auxiliar</text>
<path d="M27 3866Q35 3859 45 3859Q64 3862 64 3880Q64 3898 45 3901Q35 3901 27 3894Z" fill="#ed1c24"/>
<text class="w" x="30" y="3885" textLength="27" lengthAdjust="spacingAndGlyphs">+30</text>
<path d="M27 3994Q35 3986 45 3986Q64 3989 64 4007Q64 4025 45 4028Q35 4028 27 4020Z" fill="#ffc425"/>
<text x="30" y="4012" textLength="27" lengthAdjust="spacingAndGlyphs">+15</text>
</svg>
</body></html>
